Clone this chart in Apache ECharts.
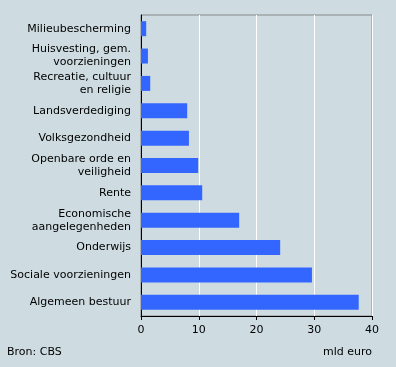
<!DOCTYPE html>
<html><head><meta charset="utf-8">
<script src="https://cdn.jsdelivr.net/npm/echarts@6/dist/echarts.min.js"></script>
<style>html,body{margin:0;padding:0;background:#cedce2;}#c{width:396px;height:367px;}</style>
</head><body><div id="c"></div>
<script>
var categories = ["Milieubescherming","Huisvesting, gem.\nvoorzieningen","Recreatie, cultuur\nen religie","Landsverdediging","Volksgezondheid","Openbare orde en\nveiligheid","Rente","Economische\naangelegenheden","Onderwijs","Sociale voorzieningen","Algemeen bestuur"];
var values = [0.9, 1.2, 1.6, 8.0, 8.3, 9.9, 10.6, 17.0, 24.1, 29.6, 37.7];
var xTicks = [0, 10, 20, 30, 40];
var font = "DejaVu Sans";
var chart = echarts.init(document.getElementById('c'));
chart.setOption({
  animation: false,
  backgroundColor: '#cedce2',
  grid: {left: 141, top: 15, right: 24, bottom: 51, show: true, borderColor: '#888', borderWidth: 1, backgroundColor: 'transparent'},
  xAxis: {type: 'value', min: xTicks[0], max: xTicks[xTicks.length-1], interval: 10,
    axisLine: {show: true, lineStyle: {color: '#000', width: 1}},
    axisTick: {show: true, length: 4, lineStyle: {color: '#000'}},
    axisLabel: {color: '#000', fontFamily: font, fontSize: 11, margin: 9},
    splitLine: {show: true, lineStyle: {color: '#fff', width: 1}}},
  yAxis: {type: 'category', data: categories, inverse: true,
    axisLine: {show: true, lineStyle: {color: '#000', width: 1}},
    axisTick: {show: false},
    axisLabel: {color: '#000', fontFamily: font, fontSize: 11, margin: 10, lineHeight: 13, align: 'right'}},
  series: [{type: 'bar', data: values, barWidth: 15, itemStyle: {color: '#3366ff'}}],
  graphic: [
    {type: 'text', left: 7, top: 347, style: {text: 'Bron: CBS', fill: '#000', font: '11px "DejaVu Sans"'}},
    {type: 'text', right: 24, top: 347, style: {text: 'mld euro', fill: '#000', font: '11px "DejaVu Sans"'}}
  ]
});
</script></body></html>
